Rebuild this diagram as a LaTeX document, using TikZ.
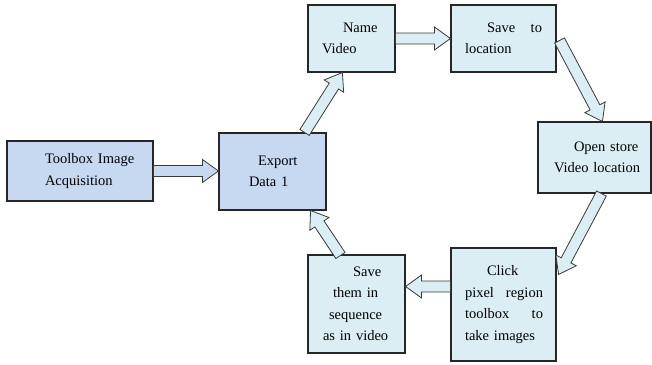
\documentclass[tikz,border=0pt]{standalone}
\usepackage{fontspec}
\setmainfont{Liberation Serif}
\usetikzlibrary{calc}
\definecolor{boxblue}{HTML}{C6D9F1}
\definecolor{boxaqua}{HTML}{DAEEF3}
\definecolor{edgegray}{HTML}{3A3A3A}

% Hollow block arrow from #2 (tail) to #3 (tip)
\newcommand\blockarrow[3][]{%
  \coordinate (ba-base) at ($(#3)!16pt!(#2)$);
  \draw[flowarrow,#1]
    ($(#2)!5.5pt!90:(#3)$) -- ($(ba-base)!5.5pt!90:(#3)$)
    -- ($(ba-base)!11.5pt!90:(#3)$) -- (#3)
    -- ($(ba-base)!11.5pt!-90:(#3)$) -- ($(ba-base)!5.5pt!-90:(#3)$)
    -- ($(#2)!5.5pt!-90:(#3)$) -- cycle;
}

\tikzset{
  stepbox/.style={draw=black!85, line width=1.1pt, inner sep=0pt, align=left,
    font=\fontsize{14.5}{21.5}\selectfont},
  bluebox/.style={stepbox, fill=boxblue},
  aquabox/.style={stepbox, fill=boxaqua},
  flowarrow/.style={draw=edgegray, line width=0.8pt, fill=boxaqua, line join=miter},
}

\begin{document}
\begin{tikzpicture}[x=1pt, y=-1pt]
\useasboundingbox (0,0) rectangle (652,364);

% process steps
\node[bluebox, minimum width=146pt, minimum height=60pt, text width=146pt] (toolbox) at (80,171)
  {\hspace*{38pt}Toolbox Image\\\hspace*{38pt}Acquisition};
\node[bluebox, minimum width=107pt, minimum height=77pt, text width=107pt] (export) at (272.5,171.5)
  {\hspace*{39pt}Export\\\hspace*{30pt}Data 1};
\node[aquabox, minimum width=87pt, minimum height=67pt, text width=87pt] (name) at (351.5,38.5)
  {\hspace*{35pt}Name\\\hspace*{14pt}Video};
\node[aquabox, minimum width=105pt, minimum height=67pt, text width=105pt] (saveloc) at (503.5,38.5)
  {\hspace*{36pt}\makebox[55pt][s]{Save\hfill to}\\\hspace*{14pt}location};
\node[aquabox, minimum width=113pt, minimum height=71pt, text width=113pt] (open) at (594.5,157.5)
  {\hspace*{36pt}Open store\\\hspace*{16pt}Video location};
\node[aquabox, minimum width=105pt, minimum height=113pt, text width=105pt] (click) at (503.5,304.5)
  {\hspace*{36pt}Click\\\hspace*{14pt}\makebox[78pt][s]{pixel\hfill region}\\
   \hspace*{14pt}\makebox[78pt][s]{toolbox\hfill to}\\\hspace*{14pt}take images};
\node[aquabox, minimum width=97pt, minimum height=98pt, text width=97pt] (savethem) at (356.5,304)
  {\hspace*{45pt}Save\\\hspace*{25pt}them in\\\hspace*{21pt}sequence\\\hspace*{15pt}as in video};

% arrow end points on the box borders
\coordinate (t2) at ($(export.north east)+(-22,0)$);
\coordinate (h2) at ($(name.south west)+(35,0)$);
\coordinate (t4) at ($(saveloc.east)+(3,2)$);
\coordinate (h4) at ($(open.north west)+(65,0)$);
\coordinate (t5) at ($(open.south west)+(64,0)$);
\coordinate (h5) at ($(click.east)+(2,-30)$);
\coordinate (t6) at ($(click.west)+(0,-18)$);
\coordinate (h6) at (savethem.east |- t6);
\coordinate (t7) at ($(savethem.north west)+(33,1)$);
\coordinate (h7) at ($(export.south east)+(-16,0)$);

% flow
\blockarrow[fill=boxblue]{toolbox.east}{toolbox.east -| export.west}
\blockarrow{t2}{h2}
\blockarrow{name.east}{saveloc.west}
\blockarrow{t4}{h4}
\blockarrow{t5}{h5}
\blockarrow{t6}{h6}
\blockarrow{t7}{h7}
\end{tikzpicture}
\end{document}
